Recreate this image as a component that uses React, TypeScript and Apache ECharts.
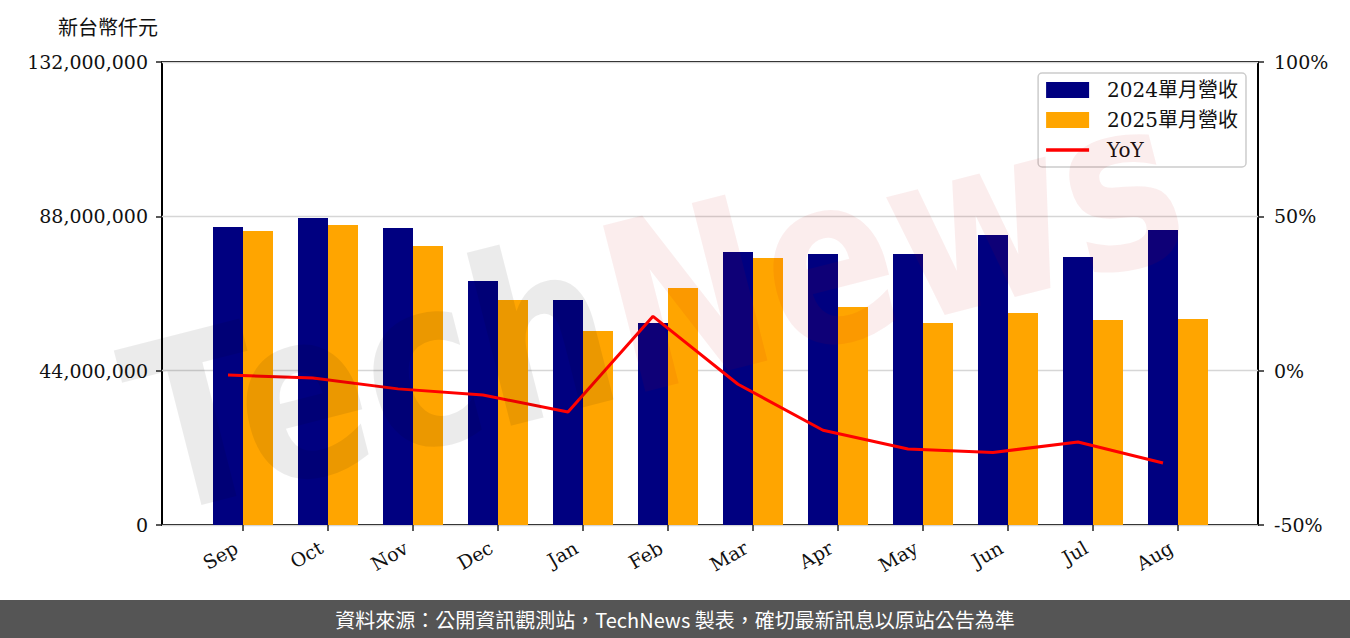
import React, { useEffect, useRef } from "react";
import * as echarts from "echarts";

const months = ["Sep", "Oct", "Nov", "Dec", "Jan", "Feb", "Mar", "Apr", "May", "Jun", "Jul", "Aug"];
const revenue2024 = [84960000, 87520000, 84670000, 69560000, 64150000, 57590000, 77830000, 77260000, 77260000, 82680000, 76410000, 84100000];
const revenue2025 = [83820000, 85530000, 79540000, 64150000, 55310000, 67570000, 76120000, 62150000, 57590000, 60440000, 58440000, 58730000];
const yoy = [-1.4, -2.4, -5.9, -7.9, -13.4, 17.6, -4.4, -19.3, -25.4, -26.5, -23.1, -29.9];
const leftTicks = { min: 0, max: 132000000, interval: 44000000 };
const rightTicks = { min: -50, max: 100, interval: 50 };

const SERIF = "'DejaVu Serif', 'Noto Sans CJK TC', serif";

export default function App() {
  const ref = useRef<HTMLDivElement>(null);
  useEffect(() => {
    document.body.style.margin = "0";
    if (!ref.current) return;
    const chart = echarts.init(ref.current, undefined, { renderer: "svg" });
    const fmt = (v: number) => v.toLocaleString("en-US");
    const gridTop = 62;
    const gridBottom = 113;
    chart.setOption({
      animation: false,
      backgroundColor: "#fff",
      grid: [
        { left: 162, right: 92, top: gridTop, bottom: gridBottom, show: true, borderColor: "#000", borderWidth: 2, backgroundColor: "transparent", containLabel: false },
        { left: 200.5, width: 1020, top: gridTop, bottom: gridBottom, containLabel: false },
        { left: 185.5, width: 1020, top: gridTop, bottom: gridBottom, containLabel: false },
      ],
      xAxis: [
        { gridIndex: 0, type: "value", min: 0, max: 1, show: false },
        {
          gridIndex: 1,
          type: "category",
          data: months,
          axisLine: { show: false },
          axisTick: { show: true, alignWithLabel: true, length: 6, lineStyle: { color: "#222", width: 1.5 } },
          axisLabel: { rotate: 30, margin: 17, padding: [0, 8, 0, 0], fontFamily: SERIF, fontSize: 19, color: "#111" },
        },
        { gridIndex: 2, type: "category", data: months, show: false },
      ],
      yAxis: [
        {
          gridIndex: 0,
          type: "value",
          position: "left",
          ...leftTicks,
          axisLine: { show: false },
          axisTick: { show: true, length: 6, lineStyle: { color: "#222", width: 1.5 } },
          axisLabel: { formatter: fmt, margin: 14, fontFamily: SERIF, fontSize: 19, color: "#111" },
          splitLine: { show: true, lineStyle: { color: "#d6d6d6", width: 1.3 } },
        },
        {
          gridIndex: 0,
          type: "value",
          position: "right",
          ...rightTicks,
          axisLine: { show: false },
          axisTick: { show: true, length: 6, lineStyle: { color: "#222", width: 1.5 } },
          axisLabel: { formatter: "{value}%", margin: 16, fontFamily: SERIF, fontSize: 19, color: "#111" },
          splitLine: { show: false },
        },
        { gridIndex: 1, type: "value", position: "left", ...leftTicks, show: false, splitLine: { show: false } },
        { gridIndex: 2, type: "value", position: "right", ...rightTicks, show: false, splitLine: { show: false } },
      ],
      legend: {
        orient: "vertical",
        right: 104,
        top: 73,
        align: "left",
        padding: [7, 8, 7, 8],
        itemWidth: 43,
        itemHeight: 16,
        itemGap: 10,
        symbolKeepAspect: true,
        backgroundColor: "rgba(255,255,255,0.8)",
        borderColor: "#cccccc",
        borderWidth: 1.5,
        borderRadius: 4,
        textStyle: { fontFamily: SERIF, fontSize: 20, color: "#111", lineHeight: 20, padding: [0, 0, 0, 13] },
        data: [
          { name: "2024單月營收", icon: "rect" },
          { name: "2025單月營收", icon: "rect" },
          { name: "YoY", icon: "path://M0,0 L43,0 L43,3.5 L0,3.5 Z" },
        ],
        z: 20,
      },
      graphic: [
        {
          type: "text",
          left: 58,
          top: 16,
          style: { text: "新台幣仟元", font: "20px 'Noto Sans CJK TC', serif", fill: "#111" },
        },
        {
          type: "text",
          x: 655,
          y: 305,
          rotation: 0.25,
          scaleX: 0.82,
          z: 50,
          silent: true,
          style: {
            text: "{a|Tech}{b|News}",
            align: "center",
            verticalAlign: "middle",
            rich: {
              a: { font: "bold 235px 'DejaVu Sans'", fill: "rgba(0,0,0,0.08)" },
              b: { font: "bold 235px 'DejaVu Sans'", fill: "rgba(200,0,0,0.07)" },
            },
          },
        },
        {
          type: "rect",
          left: 0,
          top: 600,
          z: 60,
          shape: { width: 1350, height: 38 },
          style: { fill: "#555555" },
        },
        {
          type: "text",
          x: 675,
          y: 619,
          z: 61,
          style: {
            text: "資料來源：公開資訊觀測站，TechNews 製表，確切最新訊息以原站公告為準",
            font: "20px 'Noto Sans CJK TC', sans-serif",
            fill: "#ffffff",
            align: "center",
            verticalAlign: "middle",
          },
        },
      ],
      series: [
        {
          name: "2024單月營收",
          type: "bar",
          xAxisIndex: 1,
          yAxisIndex: 2,
          data: revenue2024,
          barWidth: 30,
          barGap: "0%",
          itemStyle: { color: "#000080" },
        },
        {
          name: "2025單月營收",
          type: "bar",
          xAxisIndex: 1,
          yAxisIndex: 2,
          data: revenue2025,
          barWidth: 30,
          barGap: "0%",
          itemStyle: { color: "#FFA500" },
        },
        {
          name: "YoY",
          type: "line",
          xAxisIndex: 2,
          yAxisIndex: 3,
          data: yoy,
          symbol: "none",
          z: 5,
          lineStyle: { color: "#ff0000", width: 3 },
          itemStyle: { color: "#ff0000" },
        },
      ],
    });
    return () => chart.dispose();
  }, []);
  return <div ref={ref} style={{ width: 1350, height: 638 }} />;
}
